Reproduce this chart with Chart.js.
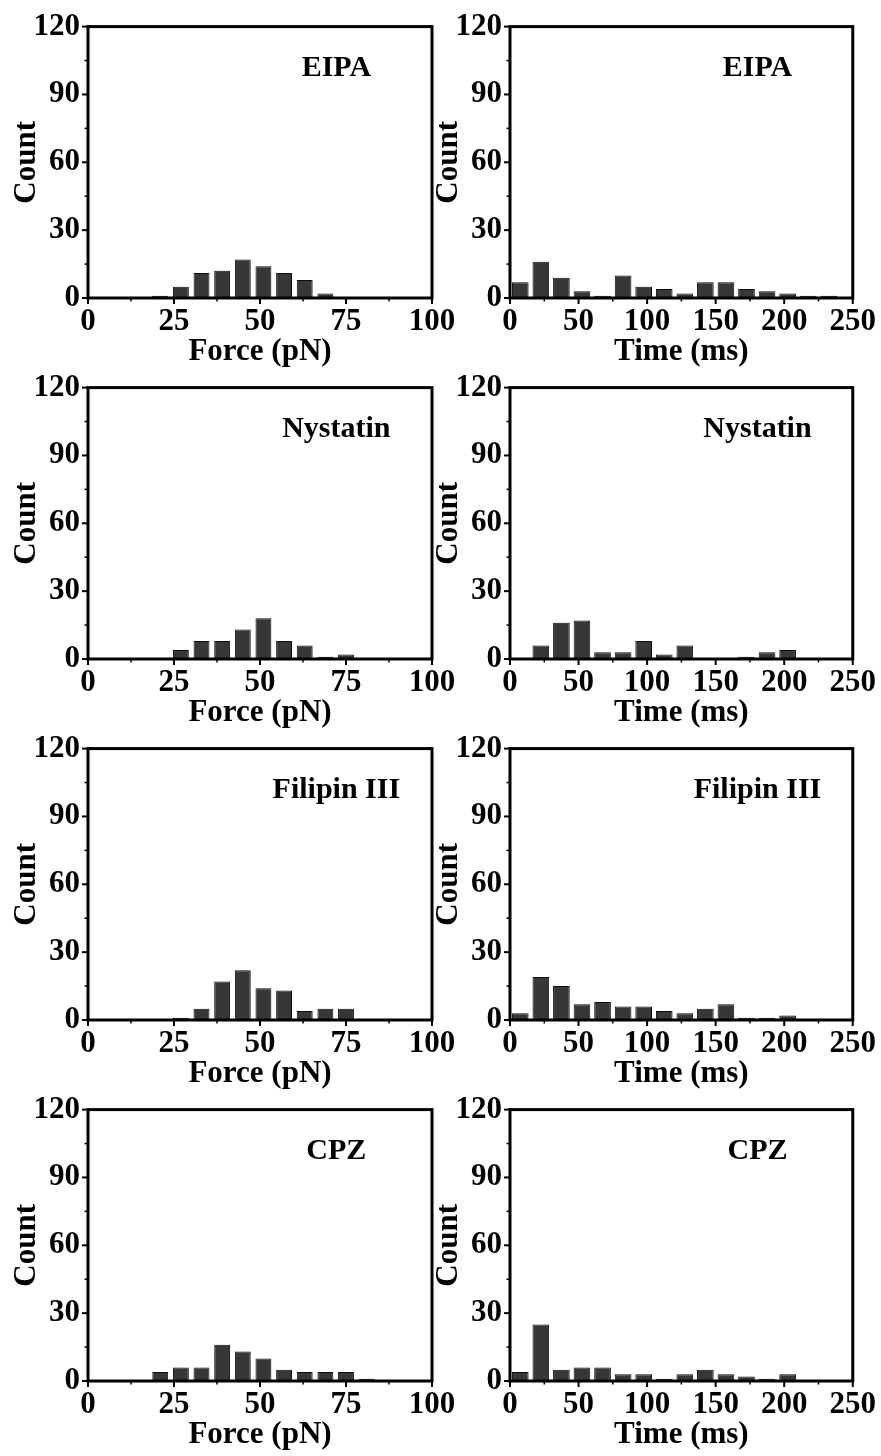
<!DOCTYPE html>
<html>
<head>
<meta charset="utf-8">
<script src="https://cdn.jsdelivr.net/npm/chart.js@4.4.1/dist/chart.umd.min.js"></script>
<style>
html, body { margin: 0; padding: 0; background: #fff; overflow: hidden; }
#wrap { position: relative; width: 881px; height: 1456px; }
canvas { position: absolute; }
</style>
</head>
<body>
<div id="wrap"></div>
<script>
// bin centres (force: 6 pN bins, time: 15 ms bins)
const forceBins = [21, 27, 33, 39, 45, 51, 57, 63, 69, 75, 81];
const timeBins = [7.5, 22.5, 37.5, 52.5, 67.5, 82.5, 97.5, 112.5, 127.5, 142.5, 157.5, 172.5, 187.5, 202.5, 217.5, 232.5];

const eipaForce     = [1, 5, 11, 12, 17, 14, 11, 8, 2, 0, 0];
const nystatinForce = [0, 4, 8, 8, 13, 18, 8, 6, 1, 2, 0];
const filipinForce  = [0, 1, 5, 17, 22, 14, 13, 4, 5, 5, 0];
const cpzForce      = [4, 6, 6, 16, 13, 10, 5, 4, 4, 4, 1];

const eipaTime     = [7, 16, 9, 3, 1, 10, 5, 4, 2, 7, 7, 4, 3, 2, 1, 1];
const nystatinTime = [0, 6, 16, 17, 3, 3, 8, 2, 6, 0, 0, 1, 3, 4, 0, 0];
const filipinTime  = [3, 19, 15, 7, 8, 6, 6, 4, 3, 5, 7, 1, 1, 2, 0, 0];
const cpzTime      = [4, 25, 5, 6, 6, 3, 3, 1, 3, 5, 3, 2, 1, 3, 0, 0];

const forceTicks = [0, 25, 50, 75, 100];
const timeTicks = [0, 50, 100, 150, 200, 250];
const countTicks = [0, 30, 60, 90, 120];

const panels = [
    { name: 'EIPA', kind: 'force', counts: eipaForce },
    { name: 'EIPA', kind: 'time', counts: eipaTime },
    { name: 'Nystatin', kind: 'force', counts: nystatinForce },
    { name: 'Nystatin', kind: 'time', counts: nystatinTime },
    { name: 'Filipin III', kind: 'force', counts: filipinForce },
    { name: 'Filipin III', kind: 'time', counts: filipinTime },
    { name: 'CPZ', kind: 'force', counts: cpzForce },
    { name: 'CPZ', kind: 'time', counts: cpzTime }
];

const SERIF = "'Liberation Serif', 'Times New Roman', Times, serif";
Chart.defaults.font.family = SERIF;
Chart.defaults.font.weight = 'bold';
Chart.defaults.color = '#000';

// majors plus a minor tick half way between them
function withMinors(majors) {
    const out = [];
    majors.forEach((v, i) => {
        out.push(v);
        if (i < majors.length - 1) out.push((v + majors[i + 1]) / 2);
    });
    return out;
}

// frame, outward tick marks and the panel label
const framePlugin = {
    id: 'frame',
    afterDraw(chart, args, opts) {
        const { ctx, chartArea: a, scales } = chart;
        ctx.save();
        ctx.strokeStyle = '#000';
        ctx.lineCap = 'butt';
        scales.x.ticks.forEach(t => {
            const px = scales.x.getPixelForValue(t.value);
            const major = opts.xMajors.includes(t.value);
            ctx.lineWidth = major ? 2 : 1.5;
            ctx.beginPath();
            ctx.moveTo(px, a.bottom);
            ctx.lineTo(px, a.bottom + (major ? 6 : 3.5));
            ctx.stroke();
        });
        scales.y.ticks.forEach(t => {
            const py = scales.y.getPixelForValue(t.value);
            const major = opts.yMajors.includes(t.value);
            ctx.lineWidth = major ? 2 : 1.5;
            ctx.beginPath();
            ctx.moveTo(a.left, py);
            ctx.lineTo(a.left - (major ? 6 : 3.5), py);
            ctx.stroke();
        });
        ctx.lineWidth = 3;
        ctx.strokeRect(a.left, a.top, a.right - a.left, a.bottom - a.top);

        ctx.fillStyle = '#000';
        ctx.font = 'bold 30px ' + SERIF;
        ctx.textAlign = 'center';
        ctx.textBaseline = 'middle';
        ctx.fillText(opts.text, a.left + (a.right - a.left) * 0.722, a.top + 42);
        ctx.restore();
    }
};

const wrap = document.getElementById('wrap');
const rowTops = [0, 361, 722, 1083];

panels.forEach((p, i) => {
    const row = Math.floor(i / 2);
    const col = i % 2;
    const isForce = p.kind === 'force';
    const bins = isForce ? forceBins : timeBins;
    const xMajors = isForce ? forceTicks : timeTicks;

    const canvas = document.createElement('canvas');
    const w = col === 0 ? 462 : 459;
    const h = 375;
    canvas.width = w;
    canvas.height = h;
    canvas.style.left = (col === 0 ? 0 : 422) + 'px';
    canvas.style.top = rowTops[row] + 'px';
    canvas.style.width = w + 'px';
    canvas.style.height = h + 'px';
    wrap.appendChild(canvas);

    new Chart(canvas.getContext('2d'), {
        type: 'bar',
        data: {
            datasets: [{
                data: bins.map((x, k) => ({ x: x, y: p.counts[k] })),
                backgroundColor: '#373737',
                borderColor: '#0d0d0d',
                borderWidth: 1,
                categoryPercentage: 1,
                barPercentage: isForce ? 0.77 : 0.81
            }]
        },
        options: {
            responsive: false,
            animation: false,
            layout: { padding: { left: 0, top: 21, right: col === 0 ? 30 : 28, bottom: 4 } },
            plugins: {
                legend: { display: false },
                tooltip: { enabled: false },
                frame: { text: p.name, xMajors: xMajors, yMajors: countTicks }
            },
            scales: {
                x: {
                    type: 'linear',
                    min: xMajors[0],
                    max: xMajors[xMajors.length - 1],
                    offset: false,
                    grid: { display: false, drawTicks: false, offset: false },
                    border: { display: false },
                    afterBuildTicks: s => { s.ticks = withMinors(xMajors).map(v => ({ value: v })); },
                    afterFit: s => { s.height = 73; },
                    ticks: {
                        autoSkip: false,
                        maxRotation: 0,
                        padding: 5,
                        color: '#000',
                        font: { size: 31, weight: 'bold' },
                        callback: v => xMajors.includes(v) ? String(v) : ''
                    },
                    title: {
                        display: true,
                        text: isForce ? 'Force (pN)' : 'Time (ms)',
                        color: '#000',
                        font: { size: 31, weight: 'bold' },
                        padding: 0
                    }
                },
                y: {
                    min: 0,
                    max: 120,
                    grid: { display: false, drawTicks: false },
                    border: { display: false },
                    afterBuildTicks: s => { s.ticks = withMinors(countTicks).map(v => ({ value: v })); },
                    afterFit: s => { s.width = 88; },
                    ticks: {
                        autoSkip: false,
                        padding: 8,
                        color: '#000',
                        font: { size: 31, weight: 'bold' },
                        callback: v => countTicks.includes(v) ? String(v) : ''
                    },
                    title: {
                        display: true,
                        text: 'Count',
                        color: '#000',
                        font: { size: 31, weight: 'bold' },
                        padding: { top: 8, bottom: 0 }
                    }
                }
            }
        },
        plugins: [framePlugin]
    });
});
</script>
</body>
</html>
